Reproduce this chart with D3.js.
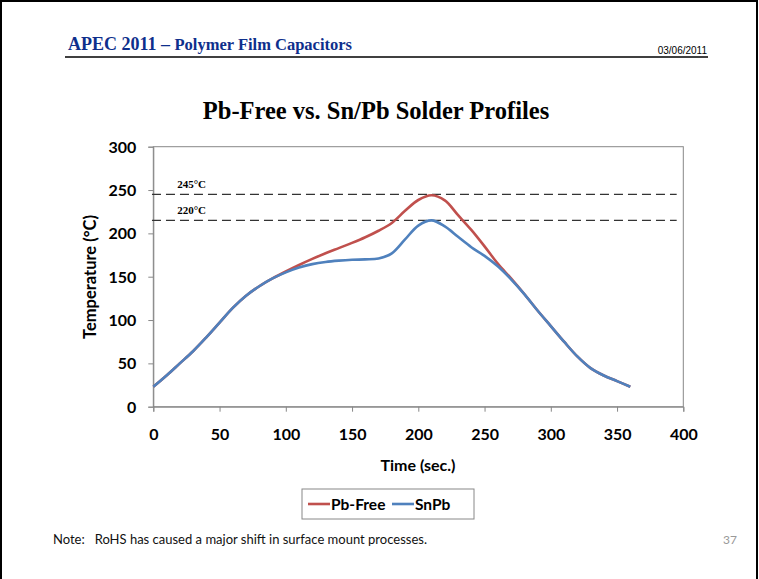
<!DOCTYPE html>
<html><head><meta charset="utf-8">
<script src="https://cdn.jsdelivr.net/npm/d3@7/dist/d3.min.js"></script>
<style>body{margin:0;background:#fff}svg{display:block}</style>
</head><body>
<svg id="c" width="759" height="579"></svg>
<script>
const times = [0,10,20,30,40,50,60,70,80,90,100,110,120,130,140,150,160,170,180,190,200,210,220,230,240,250,260,270,280,290,300,310,320,330,340,350,360];
const pbFree = [23,36,50,64,80,97,114,128,139,148,156,163.5,170.5,177,183,189,195.5,203,212,226,238.5,244,238,221,204,185,165,148,130,111,93,75,58,44.5,36,29.5,23];
const snPb   = [23,36,50,64,80,97,114,128,139,148,155,160.5,164.5,167,168.5,169.5,170,171,177,193,209,215,208,196,184,174,162,147,130,111,93,75,58,44.5,36,29.5,23];
const xTicks = [0,50,100,150,200,250,300,350,400];
const yTicks = [0,50,100,150,200,250,300];
const refLines = [{value:245,label:"245°C"},{value:215,label:"220°C"}];
const seriesNames = ["Pb-Free","SnPb"];
const seriesColors = ["#C0504D","#4F81BD"];

const svg = d3.select("#c");
// page frame
svg.append("rect").attr("x",1).attr("y",1).attr("width",756).attr("height",600)
  .attr("fill","none").attr("stroke","#000").attr("stroke-width",2);

// header
const hdr = svg.append("text").attr("x",68).attr("y",50)
  .attr("font-family","Liberation Serif, serif").attr("font-weight","bold").attr("fill","#0E2F8C");
hdr.append("tspan").attr("font-size",18).text("APEC 2011 – ");
hdr.append("tspan").attr("font-size",16.5).text("Polymer Film Capacitors");
svg.append("line").attr("x1",65).attr("x2",708).attr("y1",57).attr("y2",57).attr("stroke","#000").attr("stroke-width",1.5);
svg.append("text").attr("x",707).attr("y",54).attr("text-anchor","end")
  .attr("font-family","Liberation Sans Narrow, Liberation Sans, sans-serif").attr("font-size",10).attr("fill","#000").text("03/06/2011");

// title
svg.append("text").attr("x",376).attr("y",119).attr("text-anchor","middle")
  .attr("font-family","Liberation Serif, serif").attr("font-weight","bold").attr("font-size",24.5).attr("fill","#000")
  .text("Pb-Free vs. Sn/Pb Solder Profiles");

const L=153.3, R=683.3, T=146.7, B=406.7;
const x = d3.scaleLinear().domain([0,400]).range([L,R]);
const y = d3.scaleLinear().domain([0,300]).range([B,T]);

const axisFont = "Lato, 'Open Sans', sans-serif";
// plot frame
svg.append("rect").attr("x",L).attr("y",T).attr("width",R-L).attr("height",B-T)
  .attr("fill","none").attr("stroke","#888").attr("stroke-width",1);

const gx = svg.append("g").attr("transform",`translate(0,${B})`)
  .call(d3.axisBottom(x).tickValues(xTicks).tickSize(5).tickPadding(17).tickFormat(d3.format("d")));
const gy = svg.append("g").attr("transform",`translate(${L},0)`)
  .call(d3.axisLeft(y).tickValues(yTicks).tickSize(5).tickPadding(12).tickFormat(d3.format("d")));
[gx,gy].forEach(g=>{
  g.select(".domain").attr("stroke","#888");
  g.selectAll(".tick line").attr("stroke","#888");
  g.selectAll(".tick text").attr("font-family",axisFont).attr("font-weight","bold").attr("font-size",16).attr("fill","#000");
});
gy.selectAll(".tick text").attr("dy","0.35em");

svg.append("text").attr("x",418).attr("y",471).attr("text-anchor","middle")
  .attr("font-family",axisFont).attr("font-weight","bold").attr("font-size",16).text("Time (sec.)");
svg.append("text").attr("transform","translate(96,277) rotate(-90)").attr("text-anchor","middle")
  .attr("font-family",axisFont).attr("font-weight","bold").attr("font-size",16.5).text("Temperature (°C)");

// reference dashed lines
refLines.forEach(r=>{
  svg.append("line").attr("x1",x(-1)).attr("x2",x(395)).attr("y1",y(r.value)).attr("y2",y(r.value))
    .attr("stroke","#333").attr("stroke-width",1.3).attr("stroke-dasharray","9,5");
  svg.append("text").attr("x",x(18)).attr("y",y(r.value)-6)
    .attr("font-family","Liberation Serif, serif").attr("font-weight","bold").attr("font-size",11).text(r.label);
});

const line = d3.line().x((d,i)=>x(times[i])).y(d=>y(d)).curve(d3.curveCatmullRom.alpha(0.5));
[pbFree,snPb].forEach((s,k)=>{
  svg.append("path").datum(s).attr("d",line).attr("fill","none")
    .attr("stroke",seriesColors[k]).attr("stroke-width",2.6).attr("stroke-linejoin","round");
});

// legend
svg.append("rect").attr("x",302).attr("y",489).attr("width",172).attr("height",30)
  .attr("fill","#fff").attr("stroke","#888").attr("stroke-width",1);
const lx=[308,392];
seriesNames.forEach((n,k)=>{
  svg.append("line").attr("x1",lx[k]).attr("x2",lx[k]+22).attr("y1",504).attr("y2",504)
    .attr("stroke",seriesColors[k]).attr("stroke-width",2.6);
  svg.append("text").attr("x",lx[k]+23).attr("y",509.5).attr("font-family",axisFont)
    .attr("font-weight","bold").attr("font-size",15.5).text(n);
});

// note
svg.append("text").attr("x",53).attr("y",544).attr("font-family",axisFont).attr("font-size",13).attr("fill","#111")
  .attr("xml:space","preserve").text("Note:   RoHS has caused a major shift in surface mount processes.");
svg.append("text").attr("x",737).attr("y",544).attr("text-anchor","end").attr("font-family",axisFont)
  .attr("font-size",12).attr("fill","#999").text("37");
</script>
</body></html>
